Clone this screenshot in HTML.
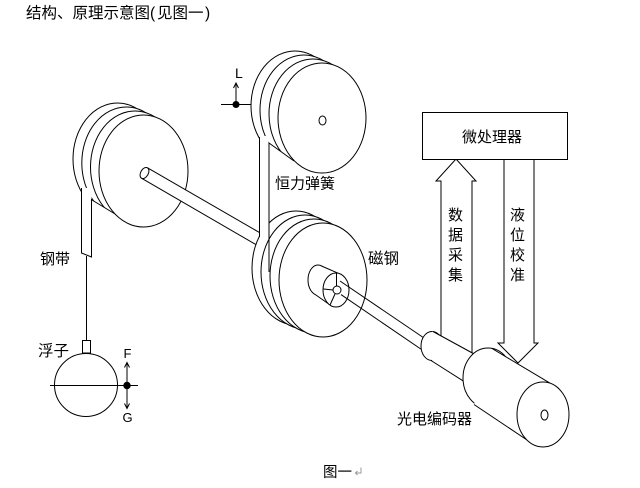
<!DOCTYPE html>
<html><head><meta charset="utf-8"><style>
html,body{margin:0;padding:0;background:#fff;}
svg{display:block;}
text{font-family:"Liberation Sans","Noto Sans CJK SC","WenQuanYi Zen Hei",sans-serif;fill:#000;}
</style></head><body>
<svg width="640" height="488" viewBox="0 0 640 488" xmlns="http://www.w3.org/2000/svg">
<rect width="640" height="488" fill="#fff"/>
<!-- title -->
<text x="26" y="18" font-size="15.5">结构、原理示意图</text>
<text x="150" y="18" font-size="15.5">(</text>
<text x="157" y="18" font-size="15.5">见图一</text>
<text x="205" y="18" font-size="15.5">)</text>

<g fill="#fff" stroke="#000" stroke-width="1">
<!-- left pulley -->
<ellipse cx="117.5" cy="159" rx="44.5" ry="56"/>
<ellipse cx="126.3" cy="163" rx="44.5" ry="56"/>
<ellipse cx="135" cy="167" rx="44.5" ry="56"/>
<polygon points="92,200 150,236 92,236" stroke="none"/>
<line x1="92" y1="200" x2="120" y2="217"/>
<ellipse cx="143.5" cy="171" rx="44.5" ry="56"/>
<polygon points="81.5,188 91.5,188 91.5,257 81.5,253" stroke="none"/>
<path d="M81.5,188V253L91.5,257V199" fill="none"/>

<!-- left shaft -->
<polygon points="147.5,167.8 262,234 256,244.6 141.5,178.2" stroke="none"/>
<line x1="147.5" y1="167.8" x2="262" y2="234"/>
<line x1="141.5" y1="178.2" x2="256" y2="244.6"/>
<ellipse cx="144.5" cy="173" rx="6" ry="3.8" transform="rotate(-60 144.5 173)"/>

<!-- top pulley -->
<ellipse cx="295" cy="106" rx="44" ry="55"/>
<ellipse cx="304" cy="110" rx="44" ry="55"/>
<ellipse cx="313" cy="114" rx="44" ry="55"/>
<polygon points="269,143 312,174 269,174" stroke="none"/>
<line x1="269" y1="143" x2="294" y2="161"/>
<ellipse cx="322" cy="118" rx="44" ry="55"/>
<ellipse cx="322.5" cy="120.5" rx="3.5" ry="4.5"/>

<!-- middle pulley -->
<ellipse cx="296" cy="268" rx="44" ry="57"/>
<ellipse cx="305" cy="272" rx="44" ry="57"/>
<ellipse cx="314" cy="276" rx="44" ry="57"/>
<ellipse cx="323" cy="280" rx="44" ry="57"/>

<!-- constant force spring band -->
<rect x="259.5" y="136" width="9" height="101" stroke="none"/>
<path d="M259.5,137V237M269,143V272" fill="none"/>

<!-- L marker -->
<line x1="221" y1="104.5" x2="251" y2="104.5"/>
<line x1="236" y1="104" x2="236" y2="83"/>
<path d="M233.5,88L236,83L238.5,88" fill="none"/>
<circle cx="236" cy="104.5" r="3" fill="#000"/>

<!-- magnet -->
<ellipse cx="318" cy="280" rx="10" ry="15"/>
<polygon points="321.5,266 341,274.4 331,305.6 314.5,294" stroke="none"/>
<line x1="321.5" y1="266" x2="341" y2="274.4"/>
<line x1="314.5" y1="294" x2="331" y2="305.6"/>
<ellipse cx="336" cy="290" rx="13" ry="17"/>
<line x1="336.5" y1="273" x2="336.5" y2="286"/>
<line x1="323.5" y1="289" x2="333" y2="290"/>
<line x1="335" y1="294" x2="330" y2="305"/>

<!-- right shaft -->
<line x1="340" y1="281" x2="424" y2="338"/>
<line x1="341" y1="294.6" x2="423" y2="350.5"/>
<circle cx="337" cy="290" r="4"/>

<!-- microprocessor box -->
<polygon points="441,360 441,181 436,181 456,159 476,181 472,181 472,360"/>
<polygon points="504,159 534,159 534,343 538,343 518,363 498,343 504,343"/>
<rect x="422.5" y="112.5" width="145" height="47"/>

<!-- encoder small cylinder -->
<ellipse cx="432" cy="346" rx="11" ry="14.5"/>
<polygon points="432,331.5 476,355 468,384 432,360.5" stroke="none"/>
<line x1="433" y1="331.5" x2="476" y2="355"/>
<line x1="431" y1="360.5" x2="468" y2="384"/>
<!-- encoder big cylinder -->
<ellipse cx="488" cy="378" rx="25" ry="30"/>
<polygon points="492,348.5 560,389 530,442 474,404.5" stroke="none"/>
<line x1="492" y1="348.5" x2="559" y2="388.5"/>
<line x1="474" y1="404.5" x2="530" y2="442"/>
<ellipse cx="543" cy="414.5" rx="26" ry="32.5"/>
<ellipse cx="544.5" cy="415" rx="3.5" ry="5"/>

<!-- float -->
<line x1="86.5" y1="256" x2="86.5" y2="340"/>
<rect x="82.5" y="340.5" width="8" height="12.5"/>
<circle cx="86" cy="385" r="31.5"/>
<line x1="50" y1="385.5" x2="138" y2="385.5"/>
<line x1="127" y1="385" x2="127" y2="363"/>
<path d="M124.5,367.5L127,362.5L129.5,367.5" fill="none"/>
<line x1="127" y1="386" x2="127" y2="408"/>
<path d="M124.5,403.5L127,408.5L129.5,403.5" fill="none"/>
<circle cx="127" cy="385.5" r="3.2" fill="#000"/>
</g>

<!-- labels -->
<text x="235" y="78" font-size="14">L</text>
<text x="275" y="188.5" font-size="15">恒力弹簧</text>
<text x="368" y="263.5" font-size="15.5">磁钢</text>
<text x="40" y="264" font-size="15">钢带</text>
<text x="38" y="356" font-size="15.5">浮子</text>
<text x="127.5" y="358" font-size="13" text-anchor="middle">F</text>
<text x="127.5" y="422" font-size="13" text-anchor="middle">G</text>
<text x="462" y="142" font-size="15">微处理器</text>
<g font-size="15" text-anchor="middle">
<text x="455.5" y="220">数</text>
<text x="455.5" y="240">据</text>
<text x="455.5" y="260">采</text>
<text x="455.5" y="280">集</text>
<text x="517.5" y="220">液</text>
<text x="517.5" y="240">位</text>
<text x="517.5" y="260">校</text>
<text x="517.5" y="280">准</text>
</g>
<text x="397" y="424" font-size="15">光电编码器</text>
<text x="323" y="477" font-size="14.5">图一</text>
<path d="M361,467.5V473H355.5M357.5,471L355.5,473L357.5,475" fill="none" stroke="#999" stroke-width="1"/>
</svg>
</body></html>
